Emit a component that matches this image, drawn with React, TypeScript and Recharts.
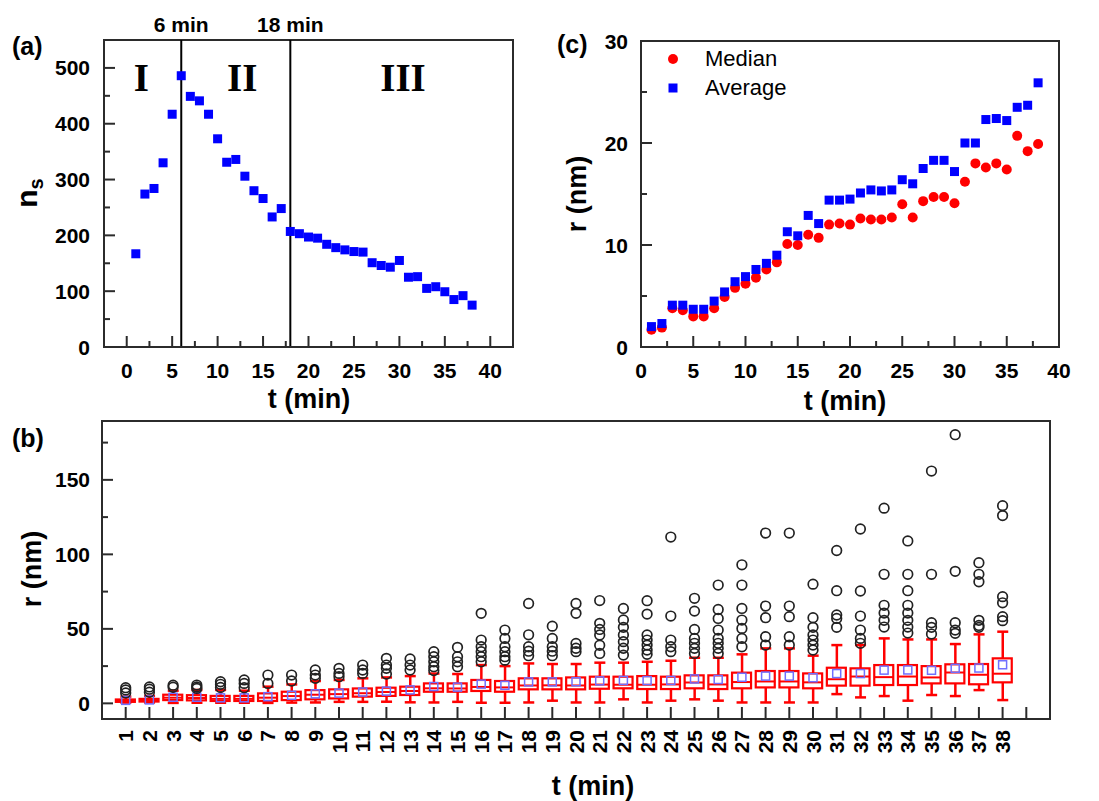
import React from "react";
import {
  ScatterChart,
  ComposedChart,
  Scatter,
  Bar,
  XAxis,
  YAxis,
  ReferenceLine,
  ReferenceArea,
  ReferenceDot,
  Legend,
} from "recharts";

const FONT = '"Liberation Sans", Arial, Helvetica, sans-serif';
const SERIF = '"Liberation Serif", "Times New Roman", serif';
const INK = "#2b2b2b";

// time axis (min)
const times = [
  1, 2, 3, 4, 5, 6, 7, 8, 9, 10, 11, 12, 13, 14, 15, 16, 17, 18, 19,
  20, 21, 22, 23, 24, 25, 26, 27, 28, 29, 30, 31, 32, 33, 34, 35, 36, 37, 38,
];

// (a) number of particles n_s
const nsValues = [
  167, 274, 284, 330, 417, 486, 449, 441, 417, 373, 331, 336, 306, 280, 266, 233, 248, 207, 203,
  197, 195, 184, 178, 174, 171, 170, 151, 146, 143, 155, 125, 126, 105, 108, 99, 85, 92, 75,
];

// (c) median / average radius (nm)
const medianR = [
  1.7, 1.9, 3.8, 3.6, 3.0, 3.0, 3.8, 4.9, 5.8, 6.2, 6.8, 7.6, 8.3, 10.1, 10.0, 11.0, 10.7, 12.0, 12.1,
  12.0, 12.6, 12.5, 12.5, 12.7, 14.0, 12.7, 14.3, 14.7, 14.7, 14.1, 16.2, 18.0, 17.6, 18.0, 17.4, 20.7, 19.2, 19.9,
];
const averageR = [
  2.0, 2.3, 4.1, 4.1, 3.7, 3.7, 4.5, 5.4, 6.4, 6.9, 7.6, 8.2, 9.0, 11.3, 10.9, 12.9, 12.1, 14.4, 14.4,
  14.5, 15.1, 15.4, 15.3, 15.4, 16.4, 16.0, 17.5, 18.3, 18.3, 17.2, 20.0, 20.0, 22.3, 22.4, 22.2, 23.5, 23.7, 25.9,
];

// (b) box plot statistics
const whiskerLow = [
  0.5, 0.6, 0.3, 0.4, 0.4, 0.4, 0.3, 0.5, 0.6, 1.0, 1.0, 1.1, 0.7, 0.6, 1.0, 0.4, 0.4, 0.6, 1.8,
  0.6, 0.6, 2.7, 0.6, 1.8, 2.7, 1.8, 0.6, 0.6, 0.6, 0.6, 6.2, 4.0, 4.9, 1.8, 5.6, 4.9, 8.9, 2.2,
];
const boxQ1 = [
  1.0, 1.2, 2.2, 2.0, 1.6, 1.6, 1.6, 2.2, 2.7, 3.3, 4.5, 5.0, 5.6, 7.8, 7.8, 8.3, 7.8, 9.4, 9.4,
  9.4, 9.8, 10.1, 9.6, 9.6, 10.1, 9.6, 10.1, 10.7, 10.7, 10.1, 11.9, 11.9, 12.3, 12.3, 13.4, 13.4, 12.8, 14.1,
];
const boxQ3 = [
  2.6, 3.0, 5.8, 5.5, 5.0, 5.0, 6.7, 7.8, 8.9, 9.4, 10.0, 10.5, 11.2, 13.4, 13.4, 15.7, 15.0, 16.8, 16.8,
  17.4, 17.9, 17.9, 18.3, 17.9, 18.8, 18.8, 20.6, 21.7, 21.7, 20.1, 23.9, 23.5, 25.7, 25.7, 25.0, 26.2, 26.4, 30.2,
];
const whiskerHigh = [
  4.5, 5.0, 8.5, 9.0, 9.0, 8.5, 11.2, 12.7, 15.0, 15.7, 16.8, 17.4, 18.3, 20.0, 19.7, 25.7, 25.0, 26.8, 26.4,
  26.4, 27.3, 27.3, 27.9, 28.6, 30.6, 30.6, 32.9, 36.9, 36.9, 32.0, 39.1, 39.1, 43.6, 42.9, 42.9, 39.8, 46.3, 48.1,
];
const outliers = [
  [10.5, 9, 7],
  [11, 9.5, 7.5],
  [12.2, 10.8],
  [12.3, 11, 10],
  [14.5, 12.8, 10.7],
  [15.7, 13.4, 10.5],
  [19, 13.4],
  [19, 15],
  [22.4, 19, 16.8],
  [23.5, 20.1, 17.9],
  [25.7, 22.4, 20.1],
  [30.2, 25.7, 23.5, 19.7],
  [29.8, 25.7, 22.4],
  [34.7, 31.3, 27.9, 24.6, 22],
  [37.6, 31.3, 27.9, 24.6],
  [60.4, 42.5, 38, 34.7, 31.3, 27.9],
  [49.2, 43.6, 38, 34.7, 31.3, 29],
  [67, 46, 38, 35, 32],
  [51.8, 43.6, 38, 35, 32],
  [67, 60.4, 40.2, 37, 34.7],
  [69, 53.7, 49.6, 45.9, 39, 33.5],
  [63.7, 56, 51, 45.9, 41.4, 37, 32.4],
  [68.9, 59.9, 45.9, 42.5, 39.1, 35.8, 32.9],
  [111.6, 58.6, 42.5, 38, 34.7],
  [70.5, 61.9, 49.6, 43.6, 40.3, 36.9, 33.5],
  [79.4, 63, 57, 49.2, 43.6, 40.3, 36.9, 33.5],
  [93, 79.4, 63.7, 55.9, 50.3, 43.6, 38],
  [114.3, 65.3, 57.5, 44.7, 39.1],
  [114.3, 65.3, 58.2, 44.7, 39.1],
  [80, 57.5, 51, 45.9, 42.5, 39.1, 35.8],
  [102.6, 75.6, 59.3, 57, 51],
  [117, 75.4, 58.6, 49.2, 43.6, 40.3],
  [131, 86.6, 65.8, 60.6, 55.7, 51.2],
  [109, 86.6, 75.6, 65.8, 60.6, 55.7, 51.2, 47.2],
  [155.9, 86.6, 54.1, 51, 46.5],
  [180.3, 88.6, 54.1, 49.2, 47],
  [94.4, 86.6, 81.6, 55.7, 52.3, 51],
  [132.7, 126, 71.6, 67.5, 58.2, 55.5],
];

// tick lists
const aMajorX = [0, 5, 10, 15, 20, 25, 30, 35, 40];
const aMinorX = [2.5, 7.5, 12.5, 17.5, 22.5, 27.5, 32.5, 37.5];
const aMajorY = [0, 100, 200, 300, 400, 500];
const aMinorY = [50, 150, 250, 350, 450];
const cMajorX = [0, 5, 10, 15, 20, 25, 30, 35, 40];
const cMinorX = [2.5, 7.5, 12.5, 17.5, 22.5, 27.5, 32.5, 37.5];
const cMajorY = [0, 10, 20, 30];
const cMinorY = [5, 15, 25];
const bMajorY = [0, 50, 100, 150];
const bMinorY = [25, 75, 125, 175];
const bTicksX = [...times, 39];

const legendOrder = ["Median", "Average"];

const nsData = times.map((t, i) => ({ t, ns: nsValues[i] }));
const medianPts = times.map((t, i) => ({ t, r: medianR[i] }));
const meanPts = times.map((t, i) => ({ t, r: averageR[i] }));
const boxRows = times.map((t, i) => ({
  t,
  whisker: [whiskerLow[i], whiskerHigh[i]],
  box: [boxQ1[i], boxQ3[i]],
}));
const outlierPts = times.flatMap((t, i) => outliers[i].map((r) => ({ t, r })));

const axisLine = { stroke: INK, strokeWidth: 2 };

const bottomTick = (majors: number[]) => (p: any) => {
  const v = p.payload.value;
  const big = majors.includes(v);
  return (
    <g>
      <line x1={p.x} x2={p.x} y1={p.y} y2={p.y - (big ? 11 : 6)} stroke={INK} strokeWidth={2} />
      {big && (
        <text x={p.x} y={p.y + 31} textAnchor="middle" fontFamily={FONT} fontWeight="bold" fontSize={21} fill="#000">
          {v}
        </text>
      )}
    </g>
  );
};

const leftTick = (majors: number[], gap: number) => (p: any) => {
  const v = p.payload.value;
  const big = majors.includes(v);
  return (
    <g>
      <line x1={p.x} x2={p.x + (big ? 11 : 6)} y1={p.y} y2={p.y} stroke={INK} strokeWidth={2} />
      {big && (
        <text x={p.x - gap} y={p.y} dy="0.36em" textAnchor="end" fontFamily={FONT} fontWeight="bold" fontSize={21} fill="#000">
          {v}
        </text>
      )}
    </g>
  );
};

const rotatedTick = (p: any) => {
  const v = p.payload.value;
  const ty = p.y + 11;
  return (
    <g>
      <line x1={p.x} x2={p.x} y1={p.y} y2={p.y - 12} stroke={INK} strokeWidth={2} />
      {times.includes(v) && (
        <text
          transform={`rotate(-90, ${p.x}, ${ty})`}
          x={p.x}
          y={ty}
          dy="0.36em"
          textAnchor="end"
          fontFamily={FONT}
          fontWeight="bold"
          fontSize={21}
          fill="#000"
        >
          {v}
        </text>
      )}
    </g>
  );
};

const BlueSquare = (p: any) => <rect x={p.cx - 4.5} y={p.cy - 4.5} width={9} height={9} fill="#0000ff" />;
const RedDot = (p: any) => <circle cx={p.cx} cy={p.cy} r={5} fill="#ff0000" />;

const Whisker = (p: any) => {
  const cx = p.x + p.width / 2;
  return (
    <g stroke="#ff0000" strokeWidth={2.5}>
      <line x1={cx} x2={cx} y1={p.y} y2={p.y + p.height} />
      <line x1={cx - 5.5} x2={cx + 5.5} y1={p.y} y2={p.y} />
      <line x1={cx - 5.5} x2={cx + 5.5} y1={p.y + p.height} y2={p.y + p.height} />
    </g>
  );
};
const BoxShape = (p: any) => (
  <rect x={p.x} y={p.y} width={p.width} height={Math.max(p.height, 1)} fill="#fff" stroke="#ff0000" strokeWidth={2.2} />
);
const MedianMark = (p: any) => (
  <line x1={p.cx - 9.5} x2={p.cx + 9.5} y1={p.cy} y2={p.cy} stroke="#ff0000" strokeWidth={2} />
);
const MeanMark = (p: any) => (
  <rect x={p.cx - 4} y={p.cy - 4} width={8} height={8} fill="none" stroke="#6f6fff" strokeWidth={1.5} />
);
const OutlierMark = (p: any) => <circle cx={p.cx} cy={p.cy} r={4.8} fill="none" stroke="#222" strokeWidth={1.7} />;

const renderLegend = (props: any) => {
  const items = [...(props.payload || [])].sort(
    (a: any, b: any) => legendOrder.indexOf(a.value) - legendOrder.indexOf(b.value)
  );
  return (
    <div style={{ fontFamily: FONT, fontSize: 22, color: "#000" }}>
      {items.map((e: any) => (
        <div key={e.value} style={{ display: "flex", alignItems: "center", height: 29.5 }}>
          <svg width={20} height={20}>
            {e.type === "circle" ? (
              <circle cx={10} cy={10} r={5} fill={e.color} />
            ) : (
              <rect x={5.5} y={5.5} width={9} height={9} fill={e.color} />
            )}
          </svg>
          <span style={{ marginLeft: 22, lineHeight: 1 }}>{e.value}</span>
        </div>
      ))}
    </div>
  );
};

const romanLabel = (value: string) => ({
  value,
  position: "center" as const,
  fontFamily: SERIF,
  fontWeight: "bold",
  fontSize: 39,
  fill: "#000",
});

const minuteLabel = (value: string) => ({
  value,
  position: "top" as const,
  offset: 8,
  fontFamily: FONT,
  fontWeight: "bold",
  fontSize: 21,
  fill: "#000",
});

const titleStyle = { fontFamily: FONT, fontWeight: "bold" as const, fill: "#000" };

export default function App() {
  return (
    <div style={{ position: "absolute", left: 0, top: 0, width: 1099, height: 801, background: "#fff" }}>
      {/* (a) */}
      <div style={{ position: "absolute", left: 0, top: 0 }}>
        <ScatterChart width={540} height={420} margin={{ top: 40, right: 27, bottom: 0, left: 44 }}>
          <XAxis
            type="number"
            dataKey="t"
            domain={[-2.5, 42.5]}
            allowDataOverflow
            ticks={[...aMajorX, ...aMinorX]}
            interval={0}
            tickSize={0}
            tickMargin={0}
            tickLine={false}
            axisLine={axisLine}
            height={73}
            tick={bottomTick(aMajorX)}
          />
          <YAxis
            type="number"
            dataKey="ns"
            domain={[0, 550]}
            allowDataOverflow
            ticks={[...aMajorY, ...aMinorY]}
            interval={0}
            tickSize={0}
            tickMargin={0}
            tickLine={false}
            axisLine={axisLine}
            width={60}
            tick={leftTick(aMajorY, 14)}
          />
          <ReferenceArea x1={-2.5} x2={42.5} y1={0} y2={550} fill="none" stroke={INK} strokeWidth={2} />
          <ReferenceLine x={6} stroke="#000" strokeWidth={2} label={minuteLabel("6 min")} />
          <ReferenceLine x={18} stroke="#000" strokeWidth={2} label={minuteLabel("18 min")} />
          <ReferenceDot x={1.6} y={484} r={0} fill="none" stroke="none" label={romanLabel("I")} />
          <ReferenceDot x={12.7} y={484} r={0} fill="none" stroke="none" label={romanLabel("II")} />
          <ReferenceDot x={30.4} y={484} r={0} fill="none" stroke="none" label={romanLabel("III")} />
          <Scatter data={nsData} fill="#0000ff" shape={BlueSquare} isAnimationActive={false} />
        </ScatterChart>
      </div>

      {/* (c) */}
      <div style={{ position: "absolute", left: 560, top: 0 }}>
        <ScatterChart width={539} height={420} margin={{ top: 41, right: 40, bottom: 0, left: 31 }}>
          <XAxis
            type="number"
            dataKey="t"
            domain={[0, 40]}
            allowDataOverflow
            ticks={[...cMajorX, ...cMinorX]}
            interval={0}
            tickSize={0}
            tickMargin={0}
            tickLine={false}
            axisLine={axisLine}
            height={73}
            tick={bottomTick(cMajorX)}
          />
          <YAxis
            type="number"
            dataKey="r"
            domain={[0, 30]}
            allowDataOverflow
            ticks={[...cMajorY, ...cMinorY]}
            interval={0}
            tickSize={0}
            tickMargin={0}
            tickLine={false}
            axisLine={axisLine}
            width={50}
            tick={leftTick(cMajorY, 13)}
          />
          <ReferenceArea x1={0} x2={40} y1={0} y2={30} fill="none" stroke={INK} strokeWidth={2} />
          <Legend
            layout="vertical"
            align="center"
            verticalAlign="middle"
            content={renderLegend}
            wrapperStyle={{ left: 103, top: 44, width: "auto", height: "auto" }}
          />
          <Scatter
            name="Median"
            data={medianPts}
            fill="#ff0000"
            legendType="circle"
            shape={RedDot}
            isAnimationActive={false}
          />
          <Scatter
            name="Average"
            data={meanPts}
            fill="#0000ff"
            legendType="square"
            shape={BlueSquare}
            isAnimationActive={false}
          />
        </ScatterChart>
      </div>

      {/* (b) */}
      <div style={{ position: "absolute", left: 0, top: 400 }}>
        <ComposedChart width={1099} height={401} data={boxRows} margin={{ top: 21, right: 49, bottom: 0, left: 42 }}>
          <XAxis
            xAxisId="main"
            type="number"
            dataKey="t"
            domain={[0, 40]}
            allowDataOverflow
            ticks={bTicksX}
            interval={0}
            tickSize={0}
            tickMargin={0}
            tickLine={false}
            axisLine={axisLine}
            height={82}
            tick={rotatedTick}
          />
          <XAxis xAxisId="box" type="number" dataKey="t" domain={[0, 40]} allowDataOverflow hide height={0} />
          <YAxis
            type="number"
            dataKey="r"
            domain={[-10.5, 189.5]}
            allowDataOverflow
            ticks={[...bMajorY, ...bMinorY]}
            interval={0}
            tickSize={0}
            tickMargin={0}
            tickLine={false}
            axisLine={axisLine}
            width={60}
            tick={leftTick(bMajorY, 12)}
          />
          <ReferenceArea xAxisId="main" x1={0} x2={40} y1={-10.5} y2={189.5} fill="none" stroke={INK} strokeWidth={2} />
          <Bar xAxisId="main" dataKey="whisker" barSize={10} shape={Whisker} isAnimationActive={false} />
          <Bar xAxisId="box" dataKey="box" barSize={19} shape={BoxShape} isAnimationActive={false} />
          <Scatter xAxisId="main" data={medianPts} shape={MedianMark} isAnimationActive={false} />
          <Scatter xAxisId="main" data={meanPts} shape={MeanMark} isAnimationActive={false} />
          <Scatter xAxisId="main" data={outlierPts} shape={OutlierMark} isAnimationActive={false} />
        </ComposedChart>
      </div>

      {/* panel letters and axis titles */}
      <svg
        width={1099}
        height={801}
        style={{ position: "absolute", left: 0, top: 0, pointerEvents: "none" }}
      >
        <text x={12} y={55} fontSize={25} {...titleStyle}>(a)</text>
        <text x={557} y={53} fontSize={25} {...titleStyle}>(c)</text>
        <text x={12} y={447} fontSize={25} {...titleStyle}>(b)</text>
        <text x={309} y={408} fontSize={27} textAnchor="middle" {...titleStyle}>t (min)</text>
        <text x={845} y={410} fontSize={27} textAnchor="middle" {...titleStyle}>t (min)</text>
        <text x={593} y={795} fontSize={27} textAnchor="middle" {...titleStyle}>t (min)</text>
        <text transform="rotate(-90, 37, 193)" x={37} y={193} fontSize={30} textAnchor="middle" {...titleStyle}>
          n<tspan fontSize={20} dy={6}>s</tspan>
        </text>
        <text transform="rotate(-90, 586, 194)" x={586} y={194} fontSize={27} textAnchor="middle" {...titleStyle}>
          r (nm)
        </text>
        <text transform="rotate(-90, 41, 569)" x={41} y={569} fontSize={27} textAnchor="middle" {...titleStyle}>
          r (nm)
        </text>
      </svg>
    </div>
  );
}
